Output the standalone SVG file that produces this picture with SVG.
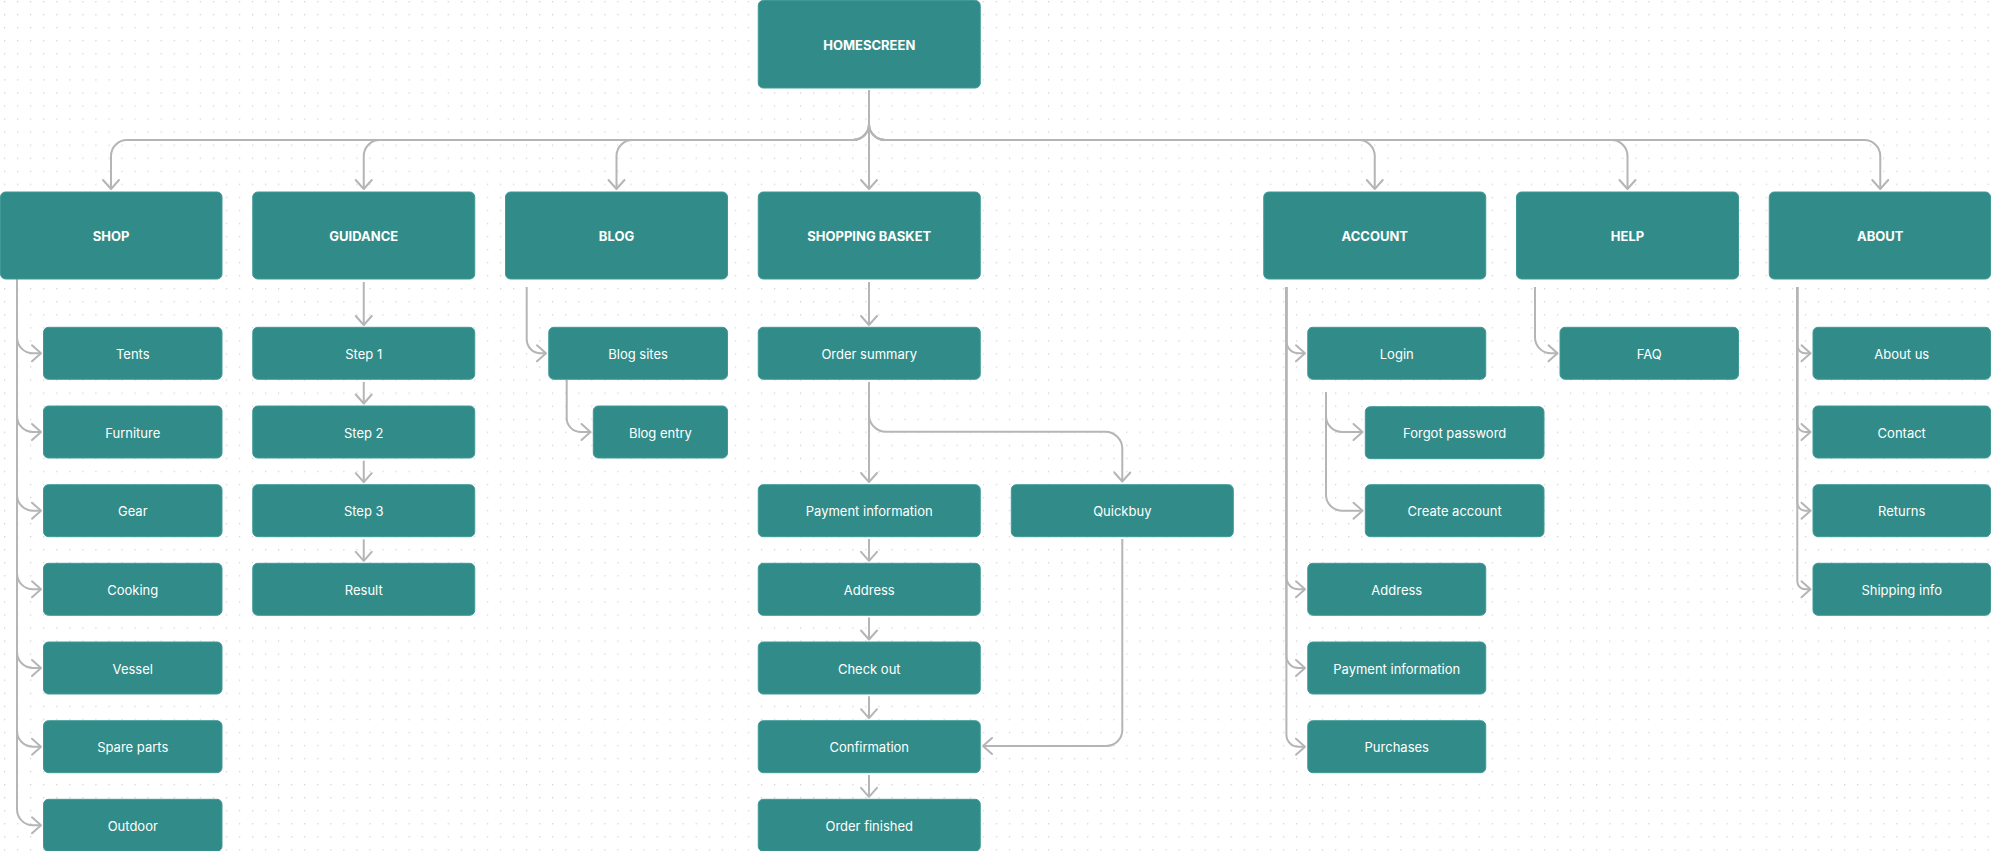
<svg xmlns="http://www.w3.org/2000/svg" width="1991" height="851" viewBox="0 0 1991 851">
<defs>
<pattern id="dots" x="4" y="1" width="13.05" height="13.05" patternUnits="userSpaceOnUse">
<circle cx="0.5" cy="0.5" r="0.8" fill="#d2d2d2"/>
</pattern>
<marker id="arr" viewBox="-11 -10 13 20" refX="0" refY="0" markerWidth="13" markerHeight="20" markerUnits="userSpaceOnUse" orient="auto">
<path d="M-9,-8 L0,0 L-9,8" fill="none" stroke="#b5b5b5" stroke-width="2" stroke-linejoin="round" stroke-linecap="round"/>
</marker>
<style>
.box{fill:#318c89;stroke:#3f9a97;stroke-width:1}
.h{font-family:Inter,"Liberation Sans",sans-serif;font-size:13px;font-weight:700;fill:#ffffff;text-anchor:middle}
.t{font-family:Inter,"Liberation Sans",sans-serif;font-size:13px;font-weight:400;fill:#ffffff;text-anchor:middle}
.c{fill:none;stroke:#b5b5b5;stroke-width:2;marker-end:url(#arr)}
</style>
</defs>
<rect width="1991" height="851" fill="#ffffff"/>
<rect width="1991" height="851" fill="url(#dots)"/>

<g id="connectors">
<path class="c" d="M869,90 V189"/>
<path class="c" d="M869,90 V124 A16 16 0 0 1 853,140 H127 A16 16 0 0 0 111,156 V189"/>
<path class="c" d="M869,90 V124 A16 16 0 0 1 853,140 H379.75 A16 16 0 0 0 363.75,156 V189"/>
<path class="c" d="M869,90 V124 A16 16 0 0 1 853,140 H632.5 A16 16 0 0 0 616.5,156 V189"/>
<path class="c" d="M869,90 V124 A16 16 0 0 0 885,140 H1358.75 A16 16 0 0 1 1374.75,156 V189"/>
<path class="c" d="M869,90 V124 A16 16 0 0 0 885,140 H1611.5 A16 16 0 0 1 1627.5,156 V189"/>
<path class="c" d="M869,90 V124 A16 16 0 0 0 885,140 H1864.25 A16 16 0 0 1 1880.25,156 V189"/>
<path class="c" d="M17,279 V337.3 A16 16 0 0 0 33,353.3 H41"/>
<path class="c" d="M17,279 V416 A16 16 0 0 0 33,432 H41"/>
<path class="c" d="M17,279 V494.7 A16 16 0 0 0 33,510.7 H41"/>
<path class="c" d="M17,279 V573.3 A16 16 0 0 0 33,589.3 H41"/>
<path class="c" d="M17,279 V652 A16 16 0 0 0 33,668 H41"/>
<path class="c" d="M17,279 V730.7 A16 16 0 0 0 33,746.7 H41"/>
<path class="c" d="M17,279 V809.3 A16 16 0 0 0 33,825.3 H41"/>
<path class="c" d="M363.75,282 V325"/>
<path class="c" d="M363.75,382 V403.5"/>
<path class="c" d="M363.75,460.7 V482.2"/>
<path class="c" d="M363.75,539.3 V560.8"/>
<path class="c" d="M526.7,287 V339.3 A14 14 0 0 0 540.7,353.3 H546"/>
<path class="c" d="M566.7,380 V418 A14 14 0 0 0 580.7,432 H590.5"/>
<path class="c" d="M869,282 V325"/>
<path class="c" d="M869,382 V482"/>
<path class="c" d="M869,382 V414.7 A17 17 0 0 0 886,431.7 H1105.3 A17 17 0 0 1 1122.3,448.7 V481.5"/>
<path class="c" d="M869,539 V560.8"/>
<path class="c" d="M869,617.6 V639.5"/>
<path class="c" d="M869,696.3 V718.2"/>
<path class="c" d="M869,775 V796.8"/>
<path class="c" d="M1122.3,539 V730 A16 16 0 0 1 1106.3,746 H983"/>
<path class="c" d="M1286.4,287 V341.3 A12 12 0 0 0 1298.4,353.3 H1305"/>
<path class="c" d="M1286.4,287 V577.3 A12 12 0 0 0 1298.4,589.3 H1305"/>
<path class="c" d="M1286.4,287 V656 A12 12 0 0 0 1298.4,668 H1305"/>
<path class="c" d="M1286.4,287 V734.7 A12 12 0 0 0 1298.4,746.7 H1305"/>
<path class="c" d="M1326,392 V416 A16 16 0 0 0 1342,432 H1362.5"/>
<path class="c" d="M1326,392 V494.7 A16 16 0 0 0 1342,510.7 H1362.5"/>
<path class="c" d="M1535,287 V337.3 A16 16 0 0 0 1551,353.3 H1557.5"/>
<path class="c" d="M1797.3,287 V345.3 A8 8 0 0 0 1805.3,353.3 H1810.5"/>
<path class="c" d="M1797.3,287 V424 A8 8 0 0 0 1805.3,432 H1810.5"/>
<path class="c" d="M1797.3,287 V502.7 A8 8 0 0 0 1805.3,510.7 H1810.5"/>
<path class="c" d="M1797.3,287 V581.3 A8 8 0 0 0 1805.3,589.3 H1810.5"/>
</g>

<g id="homescreen"><rect class="box" x="758.25" y="0.5" width="222" height="87.5" rx="5"/><text class="h" x="869.25" y="50">HOMESCREEN</text></g>

<g id="shop"><rect class="box" x="0.5" y="192" width="221.5" height="87" rx="5"/><text class="h" x="111" y="241.3">SHOP</text></g>
<g id="guidance"><rect class="box" x="252.75" y="192" width="222" height="87" rx="5"/><text class="h" x="363.75" y="241.3">GUIDANCE</text></g>
<g id="blog"><rect class="box" x="505.5" y="192" width="222" height="87" rx="5"/><text class="h" x="616.5" y="241.3">BLOG</text></g>
<g id="shopping-basket"><rect class="box" x="758.25" y="192" width="222" height="87" rx="5"/><text class="h" x="869.25" y="241.3">SHOPPING BASKET</text></g>
<g id="account"><rect class="box" x="1263.75" y="192" width="222" height="87" rx="5"/><text class="h" x="1374.75" y="241.3">ACCOUNT</text></g>
<g id="help"><rect class="box" x="1516.5" y="192" width="222" height="87" rx="5"/><text class="h" x="1627.5" y="241.3">HELP</text></g>
<g id="about"><rect class="box" x="1769.25" y="192" width="221.25" height="87" rx="5"/><text class="h" x="1880.25" y="241.3">ABOUT</text></g>

<g id="tents"><rect class="box" x="43.5" y="327.3" width="178.5" height="52" rx="5"/><text class="t" x="132.75" y="359">Tents</text></g>
<g id="furniture"><rect class="box" x="43.5" y="406" width="178.5" height="52" rx="5"/><text class="t" x="132.75" y="437.7">Furniture</text></g>
<g id="gear"><rect class="box" x="43.5" y="484.7" width="178.5" height="52" rx="5"/><text class="t" x="132.75" y="516.4">Gear</text></g>
<g id="cooking"><rect class="box" x="43.5" y="563.3" width="178.5" height="52" rx="5"/><text class="t" x="132.75" y="595">Cooking</text></g>
<g id="vessel"><rect class="box" x="43.5" y="642" width="178.5" height="52" rx="5"/><text class="t" x="132.75" y="673.7">Vessel</text></g>
<g id="spare-parts"><rect class="box" x="43.5" y="720.7" width="178.5" height="52" rx="5"/><text class="t" x="132.75" y="752.4">Spare parts</text></g>
<g id="outdoor"><rect class="box" x="43.5" y="799.3" width="178.5" height="52" rx="5"/><text class="t" x="132.75" y="831">Outdoor</text></g>

<g id="step1"><rect class="box" x="252.75" y="327.3" width="222" height="52" rx="5"/><text class="t" x="363.75" y="359">Step 1</text></g>
<g id="step2"><rect class="box" x="252.75" y="406" width="222" height="52" rx="5"/><text class="t" x="363.75" y="437.7">Step 2</text></g>
<g id="step3"><rect class="box" x="252.75" y="484.7" width="222" height="52" rx="5"/><text class="t" x="363.75" y="516.4">Step 3</text></g>
<g id="result"><rect class="box" x="252.75" y="563.3" width="222" height="52" rx="5"/><text class="t" x="363.75" y="595">Result</text></g>

<g id="blog-sites"><rect class="box" x="548.75" y="327.3" width="178.75" height="52" rx="5"/><text class="t" x="638.1" y="359">Blog sites</text></g>
<g id="blog-entry"><rect class="box" x="593.3" y="406" width="134.2" height="52" rx="5"/><text class="t" x="660.4" y="437.7">Blog entry</text></g>

<g id="order-summary"><rect class="box" x="758.25" y="327.3" width="222" height="52" rx="5"/><text class="t" x="869.25" y="359">Order summary</text></g>
<g id="payment-information"><rect class="box" x="758.25" y="484.7" width="222" height="52" rx="5"/><text class="t" x="869.25" y="516.4">Payment information</text></g>
<g id="quickbuy"><rect class="box" x="1011.3" y="484.7" width="222" height="52" rx="5"/><text class="t" x="1122.3" y="516.4">Quickbuy</text></g>
<g id="address"><rect class="box" x="758.25" y="563.3" width="222" height="52" rx="5"/><text class="t" x="869.25" y="595">Address</text></g>
<g id="check-out"><rect class="box" x="758.25" y="642" width="222" height="52" rx="5"/><text class="t" x="869.25" y="673.7">Check out</text></g>
<g id="confirmation"><rect class="box" x="758.25" y="720.7" width="222" height="52" rx="5"/><text class="t" x="869.25" y="752.4">Confirmation</text></g>
<g id="order-finished"><rect class="box" x="758.25" y="799.3" width="222" height="52" rx="5"/><text class="t" x="869.25" y="831">Order finished</text></g>

<g id="login"><rect class="box" x="1307.75" y="327.3" width="178" height="52" rx="5"/><text class="t" x="1396.75" y="359">Login</text></g>
<g id="forgot-password"><rect class="box" x="1365.3" y="406.7" width="178.7" height="52" rx="5"/><text class="t" x="1454.65" y="438.4">Forgot password</text></g>
<g id="create-account"><rect class="box" x="1365.3" y="484.7" width="178.7" height="52" rx="5"/><text class="t" x="1454.65" y="516.4">Create account</text></g>
<g id="account-address"><rect class="box" x="1307.75" y="563.3" width="178" height="52" rx="5"/><text class="t" x="1396.75" y="595">Address</text></g>
<g id="account-payment"><rect class="box" x="1307.75" y="642" width="178" height="52" rx="5"/><text class="t" x="1396.75" y="673.7">Payment information</text></g>
<g id="purchases"><rect class="box" x="1307.75" y="720.7" width="178" height="52" rx="5"/><text class="t" x="1396.75" y="752.4">Purchases</text></g>

<g id="faq"><rect class="box" x="1560" y="327.3" width="178.5" height="52" rx="5"/><text class="t" x="1649.25" y="359">FAQ</text></g>

<g id="about-us"><rect class="box" x="1813" y="327.3" width="177.5" height="52" rx="5"/><text class="t" x="1901.75" y="359">About us</text></g>
<g id="contact"><rect class="box" x="1813" y="406" width="177.5" height="52" rx="5"/><text class="t" x="1901.75" y="437.7">Contact</text></g>
<g id="returns"><rect class="box" x="1813" y="484.7" width="177.5" height="52" rx="5"/><text class="t" x="1901.75" y="516.4">Returns</text></g>
<g id="shipping-info"><rect class="box" x="1813" y="563.3" width="177.5" height="52" rx="5"/><text class="t" x="1901.75" y="595">Shipping info</text></g>
</svg>
